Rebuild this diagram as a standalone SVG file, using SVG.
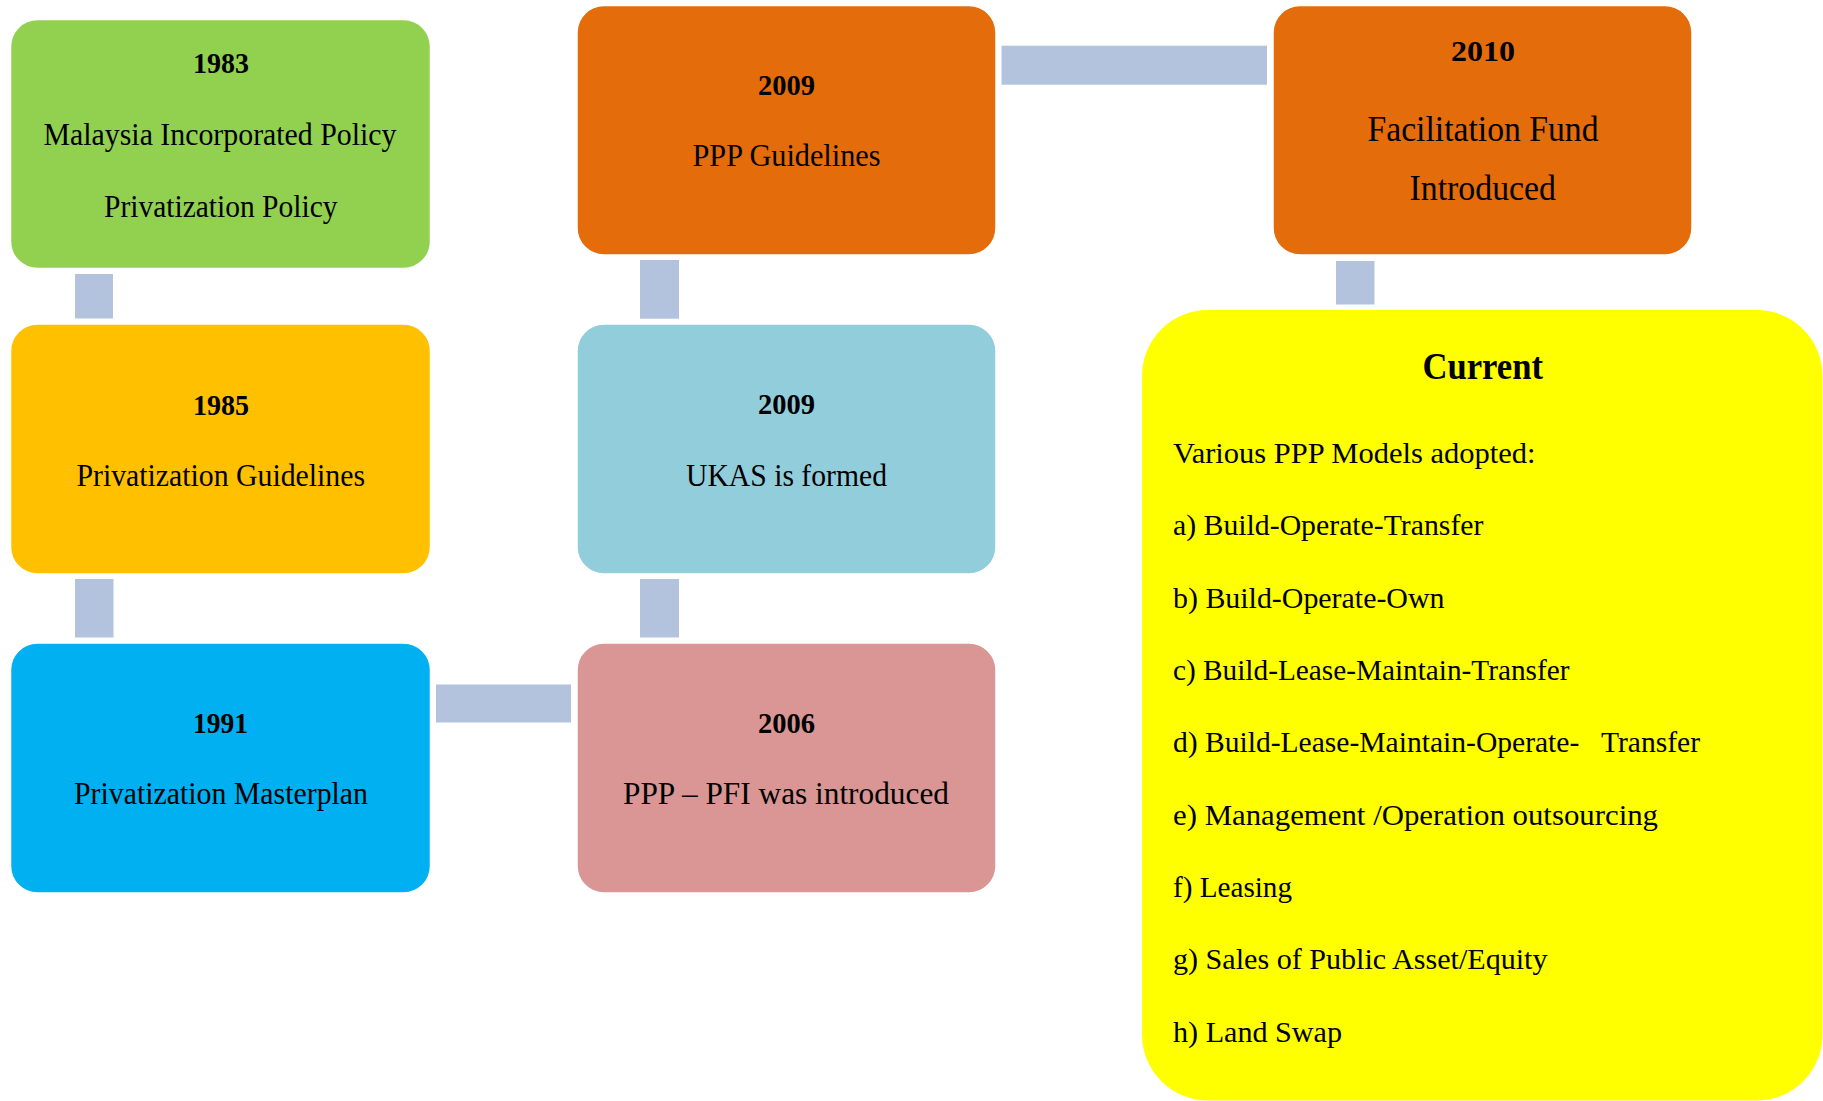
<svg xmlns="http://www.w3.org/2000/svg" width="1823" height="1101" viewBox="0 0 1823 1101">
<style>
.box{stroke:#ffffff;stroke-width:1.5}
.conn{fill:#B3C3DD}
text{font-family:"Liberation Serif","Times New Roman",serif;fill:#000000}
.yr{font-weight:bold;font-size:30px}
.t{font-size:32px}
.t2{font-size:35px}
.cur{font-weight:bold;font-size:38px}
.li{font-size:29px}
</style>
<rect width="1823" height="1101" fill="#ffffff"/>
<g id="connectors">
<rect class="conn" x="75" y="274" width="38" height="44.5"/>
<rect class="conn" x="75" y="579" width="38.5" height="58.5"/>
<rect class="conn" x="436" y="684.5" width="135" height="38"/>
<rect class="conn" x="640" y="579" width="39" height="58.5"/>
<rect class="conn" x="640" y="260" width="39" height="58.7"/>
<rect class="conn" x="1001.5" y="45.7" width="265.5" height="39"/>
<rect class="conn" x="1336" y="261" width="38.5" height="43.5"/>
</g>
<g id="n1983">
<rect class="box" x="10.5" y="19.5" width="420" height="249" rx="27" fill="#92D050"/>
<text class="yr" x="193" y="72.5" textLength="56" lengthAdjust="spacingAndGlyphs">1983</text>
<text class="t" x="43.5" y="145" textLength="353" lengthAdjust="spacingAndGlyphs">Malaysia Incorporated Policy</text>
<text class="t" x="104" y="216.5" textLength="233.5" lengthAdjust="spacingAndGlyphs">Privatization Policy</text>
</g>
<g id="n1985">
<rect class="box" x="10.5" y="324" width="420" height="250" rx="27" fill="#FFC000"/>
<text class="yr" x="193" y="414.5" textLength="56" lengthAdjust="spacingAndGlyphs">1985</text>
<text class="t" x="76.5" y="485.5" textLength="288.5" lengthAdjust="spacingAndGlyphs">Privatization Guidelines</text>
</g>
<g id="n1991">
<rect class="box" x="10.5" y="643" width="420" height="250" rx="27" fill="#00B0F0"/>
<text class="yr" x="193" y="733" textLength="55" lengthAdjust="spacingAndGlyphs">1991</text>
<text class="t" x="74" y="804" textLength="294" lengthAdjust="spacingAndGlyphs">Privatization Masterplan</text>
</g>
<g id="n2009ppp">
<rect class="box" x="577" y="5.5" width="419" height="249.5" rx="27" fill="#E46C0A"/>
<text class="yr" x="758" y="95" textLength="57" lengthAdjust="spacingAndGlyphs">2009</text>
<text class="t" x="692.5" y="165.5" textLength="188" lengthAdjust="spacingAndGlyphs">PPP Guidelines</text>
</g>
<g id="n2009ukas">
<rect class="box" x="577" y="324" width="419" height="250" rx="27" fill="#92CDDC"/>
<text class="yr" x="758" y="414" textLength="57" lengthAdjust="spacingAndGlyphs">2009</text>
<text class="t" x="686" y="485.5" textLength="201" lengthAdjust="spacingAndGlyphs">UKAS is formed</text>
</g>
<g id="n2006">
<rect class="box" x="577" y="643" width="419" height="250" rx="27" fill="#D99694"/>
<text class="yr" x="758" y="732.5" textLength="57" lengthAdjust="spacingAndGlyphs">2006</text>
<text class="t" x="623" y="804" textLength="326" lengthAdjust="spacingAndGlyphs">PPP – PFI was introduced</text>
</g>
<g id="n2010">
<rect class="box" x="1273" y="5.5" width="419" height="249.5" rx="27" fill="#E46C0A"/>
<text class="yr" x="1451" y="60.5" textLength="64" lengthAdjust="spacingAndGlyphs">2010</text>
<text class="t2" x="1367.5" y="140.5" textLength="231" lengthAdjust="spacingAndGlyphs">Facilitation Fund</text>
<text class="t2" x="1409.5" y="200" textLength="146.5" lengthAdjust="spacingAndGlyphs">Introduced</text>
</g>
<g id="current">
<rect x="1142" y="310" width="680.5" height="790.5" rx="66" fill="#FFFF00"/>
<text class="cur" x="1422.5" y="379" textLength="120.5" lengthAdjust="spacingAndGlyphs">Current</text>
<text class="li" x="1173" y="462.5" textLength="362.5" lengthAdjust="spacingAndGlyphs">Various PPP Models adopted:</text>
<text class="li" x="1173" y="535" textLength="310.5" lengthAdjust="spacingAndGlyphs">a) Build-Operate-Transfer</text>
<text class="li" x="1173" y="607.5" textLength="271.5" lengthAdjust="spacingAndGlyphs">b) Build-Operate-Own</text>
<text class="li" x="1173" y="679.5" textLength="396.5" lengthAdjust="spacingAndGlyphs">c) Build-Lease-Maintain-Transfer</text>
<text class="li" x="1173" y="751.5" textLength="527" lengthAdjust="spacingAndGlyphs" xml:space="preserve">d) Build-Lease-Maintain-Operate-   Transfer</text>
<text class="li" x="1173" y="825" textLength="485" lengthAdjust="spacingAndGlyphs">e) Management /Operation outsourcing</text>
<text class="li" x="1173" y="896.5" textLength="119" lengthAdjust="spacingAndGlyphs">f) Leasing</text>
<text class="li" x="1173" y="969" textLength="374.5" lengthAdjust="spacingAndGlyphs">g) Sales of Public Asset/Equity</text>
<text class="li" x="1173" y="1041.5" textLength="169" lengthAdjust="spacingAndGlyphs">h) Land Swap</text>
</g>
</svg>
